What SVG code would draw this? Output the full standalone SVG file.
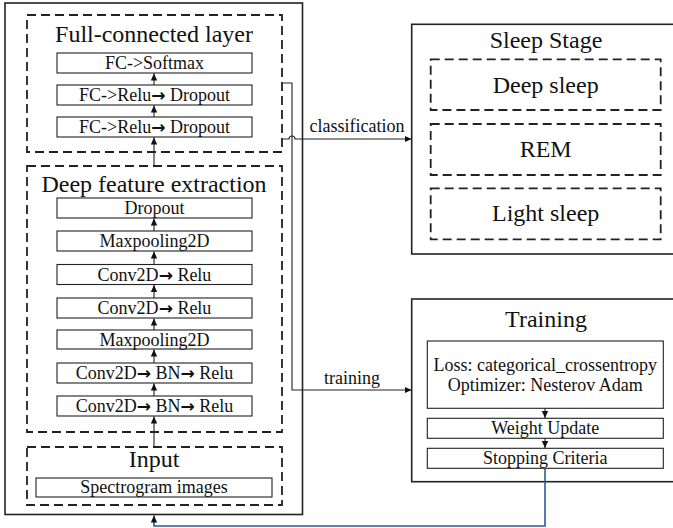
<svg xmlns="http://www.w3.org/2000/svg" width="673" height="528" viewBox="0 0 673 528">
<style>
text{font-family:"Liberation Serif","Times New Roman",serif;fill:#111;text-anchor:middle}
.t{font-size:24px}
.b{font-size:18px}
.ar{font-family:"DejaVu Sans",sans-serif;font-size:17px;font-weight:bold}
.solid{fill:#fff;stroke:#222;stroke-width:1.6}
.box{fill:#fff;stroke:#222;stroke-width:1.1}
.dash{fill:none;stroke:#222;stroke-width:1.8;stroke-dasharray:9 5}
.ln{fill:none;stroke:#222;stroke-width:1.1}
.blue{fill:none;stroke:#2e5b8c;stroke-width:1.6}
</style>
<defs>
<marker id="ah" markerWidth="8" markerHeight="8" refX="7" refY="4" orient="auto" markerUnits="userSpaceOnUse">
<path d="M0,0.8 L7,4 L0,7.2 Z" fill="#111"/>
</marker>
</defs>
<rect width="673" height="528" fill="#fff"/>
<g id="model">
<rect class="solid" x="5" y="3" width="297.5" height="511.5"/>
</g>
<g id="fc-layer">
<rect class="dash" x="27" y="15" width="255" height="137"/>
<text class="t" x="154" y="42">Full-connected layer</text>
</g>
<g id="fc-softmax"><rect class="box" x="57" y="53" width="195" height="20"/><text class="b" x="154.5" y="69">FC-&gt;Softmax</text></g>
<g id="fc-relu-2"><rect class="box" x="57" y="85" width="195" height="20"/><text class="b" x="154.5" y="101">FC-&gt;Relu<tspan class="ar">→</tspan> Dropout</text></g>
<g id="fc-relu-1"><rect class="box" x="57" y="117" width="195" height="20"/><text class="b" x="154.5" y="133">FC-&gt;Relu<tspan class="ar">→</tspan> Dropout</text></g>
<g id="deep-feature">
<rect class="dash" x="27" y="166" width="255" height="266"/>
<text class="t" x="154" y="192">Deep feature extraction</text>
</g>
<g id="dropout"><rect class="box" x="57" y="198" width="195" height="20"/><text class="b" x="154.5" y="214">Dropout</text></g>
<g id="maxpool-2"><rect class="box" x="57" y="231" width="195" height="20"/><text class="b" x="154.5" y="247">Maxpooling2D</text></g>
<g id="conv-relu-2"><rect class="box" x="57" y="264.5" width="195" height="20"/><text class="b" x="154.5" y="280.5">Conv2D<tspan class="ar">→</tspan> Relu</text></g>
<g id="conv-relu-1"><rect class="box" x="57" y="298" width="195" height="20"/><text class="b" x="154.5" y="314">Conv2D<tspan class="ar">→</tspan> Relu</text></g>
<g id="maxpool-1"><rect class="box" x="57" y="330" width="195" height="19"/><text class="b" x="154.5" y="345.5">Maxpooling2D</text></g>
<g id="conv-bn-2"><rect class="box" x="57" y="363" width="195" height="20"/><text class="b" x="154.5" y="379">Conv2D<tspan class="ar">→</tspan> BN<tspan class="ar">→</tspan> Relu</text></g>
<g id="conv-bn-1"><rect class="box" x="57" y="396" width="195" height="20"/><text class="b" x="154.5" y="412">Conv2D<tspan class="ar">→</tspan> BN<tspan class="ar">→</tspan> Relu</text></g>
<g id="input">
<rect class="dash" x="27" y="447" width="255" height="58"/>
<text class="t" x="154" y="467">Input</text>
</g>
<g id="spectrogram"><rect class="box" x="36" y="478" width="236" height="19"/><text class="b" x="154" y="493">Spectrogram images</text></g>
<g id="sleep-stage">
<rect class="solid" x="411.7" y="24.3" width="270" height="229.7"/>
<text class="t" x="546" y="48">Sleep Stage</text>
</g>
<g id="deep-sleep"><rect class="dash" x="430.7" y="59.3" width="230" height="50.7"/><text class="t" x="545.7" y="92.7">Deep sleep</text></g>
<g id="rem"><rect class="dash" x="430.7" y="124" width="230" height="51"/><text class="t" x="545.7" y="156.7">REM</text></g>
<g id="light-sleep"><rect class="dash" x="430.7" y="188.3" width="230" height="51"/><text class="t" x="545.7" y="220.7">Light sleep</text></g>
<g id="training">
<rect class="solid" x="411.7" y="299" width="270" height="182.7"/>
<text class="t" x="546" y="326.7">Training</text>
</g>
<g id="loss"><rect class="box" x="427.3" y="341" width="236" height="67.3"/><text class="b" x="545.3" y="370.7">Loss: categorical_crossentropy</text><text class="b" x="545.3" y="390.7">Optimizer: Nesterov Adam</text></g>
<g id="weight-update"><rect class="box" x="427.3" y="418.3" width="236" height="20"/><text class="b" x="545.3" y="434">Weight Update</text></g>
<g id="stopping"><rect class="box" x="427.3" y="448.3" width="236" height="20"/><text class="b" x="545.3" y="464">Stopping Criteria</text></g>
<g id="connectors">
<path class="ln" d="M154,85 V73.5" marker-end="url(#ah)"/>
<path class="ln" d="M154,117 V105.5" marker-end="url(#ah)"/>
<path class="ln" d="M154,166 V137.5" marker-end="url(#ah)"/>
<path class="ln" d="M154,231 V218.5" marker-end="url(#ah)"/>
<path class="ln" d="M154,264.5 V251.5" marker-end="url(#ah)"/>
<path class="ln" d="M154,298 V285" marker-end="url(#ah)"/>
<path class="ln" d="M154,330 V318.5" marker-end="url(#ah)"/>
<path class="ln" d="M154,363 V349.5" marker-end="url(#ah)"/>
<path class="ln" d="M154,396 V383.5" marker-end="url(#ah)"/>
<path class="ln" d="M154,447 V416.5" marker-end="url(#ah)"/>
<path class="ln" d="M282,139 H289 A3,3 0 0 1 295,139 H411.5" marker-end="url(#ah)"/>
<text class="b" x="357" y="132">classification</text>
<path class="ln" d="M282,83 H292 V390 H411.5" marker-end="url(#ah)"/>
<text class="b" x="352" y="383.5">training</text>
<path class="ln" d="M545,408.3 V418" marker-end="url(#ah)"/>
<path class="ln" d="M545,438.3 V448" marker-end="url(#ah)"/>
<path class="blue" d="M545,468.3 V526 H154 V515.5" marker-end="url(#ah)"/>
</g>
</svg>
